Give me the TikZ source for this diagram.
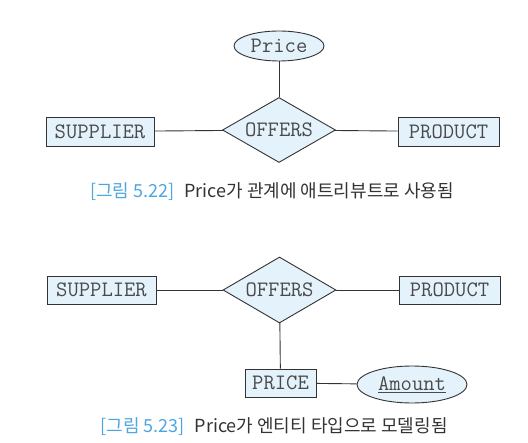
\documentclass[tikz,border=0pt]{standalone}
\usepackage{fontspec}
\usepackage{xcolor}
\usetikzlibrary{shapes.geometric}
\newfontfamily\kr{Noto Sans CJK KR}
\definecolor{erfill}{HTML}{E4F2FC}
\definecolor{erline}{HTML}{333333}
\definecolor{ertext}{HTML}{4A4A4A}
\definecolor{capblue}{HTML}{4DA6E0}

\begin{document}
\begin{tikzpicture}[x=1bp,y=-1bp,
        every node/.style={text=ertext,font=\ttfamily\fontsize{22bp}{24bp}\selectfont},
        entity/.style={draw=erline,fill=erfill,line width=0.9bp,minimum height=29bp,inner sep=0pt},
        attr/.style={ellipse,draw=erline,fill=erfill,line width=0.9bp,inner sep=0pt},
        rel/.style={diamond,draw=erline,fill=erfill,line width=0.9bp,inner sep=0pt,aspect=1.74,minimum width=113bp,minimum height=65bp},
        figcaption/.style={text=black!80,font=\kr\fontsize{18bp}{20bp}\selectfont}]
        \useasboundingbox (0,0) rectangle (528,443);
        % Figure 5.22
        \node[attr,minimum width=90bp,minimum height=30bp](price) at (279,46) {Price};
        \node[rel](offers) at (279,130) {OFFERS};
        \node[entity,minimum width=108bp](supplier) at (100,131.5) {SUPPLIER};
        \node[entity,minimum width=101bp](product) at (448.5,131.5) {PRODUCT};
        \node[figcaption](capa) at (272,192) {\textcolor{capblue}{[그림 5.22]}\hspace{6bp} Price가 관계에 애트리뷰트로 사용됨};
        \draw[erline,line width=0.9bp](price)--(offers);
        \draw[erline,line width=0.9bp](supplier)--(offers);
        \draw[erline,line width=0.9bp](offers)--(product);
        % Figure 5.23
        \node[rel,minimum height=66bp](offersb) at (279.5,290) {OFFERS};
        \node[entity,minimum width=109bp,minimum height=28bp](supplierb) at (101.5,290) {SUPPLIER};
        \node[entity,minimum width=101bp,minimum height=28bp](productb) at (449.5,290) {PRODUCT};
        \node[entity,minimum width=71bp,minimum height=28bp](priceb) at (280.5,383) {PRICE};
        \node[attr,minimum width=110bp,minimum height=37bp](amount) at (412,384.5) {\underline{Amount}};
        \node[figcaption](capb) at (274,427) {\textcolor{capblue}{[그림 5.23]}\hspace{6bp} Price가 엔티티 타입으로 모델링됨};
        \draw[erline,line width=0.9bp](supplierb)--(offersb);
        \draw[erline,line width=0.9bp](offersb)--(productb);
        \draw[erline,line width=0.9bp](offersb)--(priceb);
        \draw[erline,line width=0.9bp](priceb)--(amount);
\end{tikzpicture}
\end{document}
